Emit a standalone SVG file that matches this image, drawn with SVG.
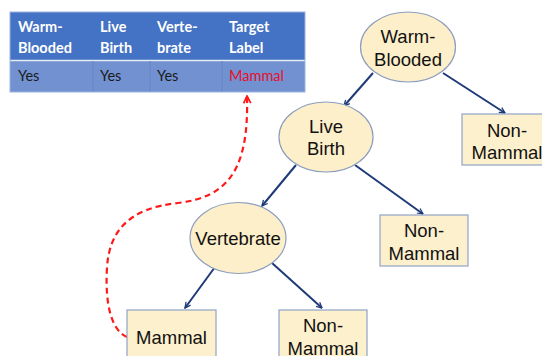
<svg xmlns="http://www.w3.org/2000/svg" width="542" height="356" viewBox="0 0 542 356">
<defs>
<style>
.th{font-family:Lato,"Open Sans",sans-serif;font-weight:bold;font-size:14.5px;fill:#ffffff}
.td{font-family:Lato,"Open Sans",sans-serif;font-size:14.5px;fill:#1a1a1a}
.tn{font-family:"Liberation Sans",Arial,sans-serif;font-size:18.5px;fill:#111111;text-anchor:middle}
.ell{fill:#FDEFC9;stroke:#8C9DBE;stroke-width:1.2}
.box{fill:#FDF0CD;stroke:#8FA3C6;stroke-width:1.2}
.edge{stroke:#1E3A78;stroke-width:2;fill:none;marker-end:url(#ah)}
</style>
<marker id="ah" viewBox="0 0 10 10" refX="9" refY="5" markerWidth="7" markerHeight="7" orient="auto" markerUnits="userSpaceOnUse">
<path d="M1,1 L9,5 L1,9" fill="none" stroke="#1E3A78" stroke-width="1.8"/>
</marker>
<marker id="rh" viewBox="0 0 10 10" refX="9" refY="5" markerWidth="9" markerHeight="9" orient="auto" markerUnits="userSpaceOnUse">
<path d="M1,1 L9,5 L1,9" fill="none" stroke="#FF1A1A" stroke-width="2"/>
</marker>
</defs>
<rect width="542" height="356" fill="#ffffff"/>
<g id="table">
<rect x="10" y="12" width="295" height="48" fill="#4472C4"/>
<rect x="10" y="61" width="295" height="31" fill="#7291D1"/>
<line x1="10" y1="60.5" x2="305" y2="60.5" stroke="#E6ECF7" stroke-width="1.5"/>
<g stroke="#6584C6" stroke-width="1">
<line x1="93" y1="61" x2="93" y2="92"/>
<line x1="150" y1="61" x2="150" y2="92"/>
<line x1="222" y1="61" x2="222" y2="92"/>
</g>
<rect x="10" y="12" width="295" height="80" fill="none" stroke="#9DB3E0" stroke-width="1"/>
<text class="th" x="18" y="32">Warm-</text>
<text class="th" x="18" y="53">Blooded</text>
<text class="th" x="100" y="32">Live</text>
<text class="th" x="100" y="53">Birth</text>
<text class="th" x="157" y="32">Verte-</text>
<text class="th" x="157" y="53">brate</text>
<text class="th" x="229" y="32">Target</text>
<text class="th" x="229" y="53">Label</text>
<text class="td" x="18" y="81">Yes</text>
<text class="td" x="100" y="81">Yes</text>
<text class="td" x="157" y="81">Yes</text>
<text class="td" x="229" y="81" style="fill:#E8102A">Mammal</text>
</g>
<g id="connectors">
<line class="edge" x1="373" y1="73" x2="344" y2="106"/>
<line class="edge" x1="443" y1="73" x2="505" y2="113"/>
<line class="edge" x1="296" y1="165" x2="262" y2="206"/>
<line class="edge" x1="355" y1="165" x2="423" y2="214"/>
<line class="edge" x1="215" y1="267" x2="185" y2="308"/>
<line class="edge" x1="272" y1="263" x2="322" y2="308"/>
<path d="M127,337 C110,330 105,300 107,268 C109,232 128,208 178,203 C228,197 249,170 247,96" fill="none" stroke="#FF1A1A" stroke-width="2.2" stroke-dasharray="6,4" marker-end="url(#rh)"/>
</g>
<g id="warm-blooded">
<ellipse class="ell" cx="408" cy="47" rx="47.5" ry="35"/>
<text class="tn" x="408" y="43">Warm-</text>
<text class="tn" x="408" y="66">Blooded</text>
</g>
<g id="live-birth">
<ellipse class="ell" cx="326" cy="137" rx="47" ry="35"/>
<text class="tn" x="326" y="133">Live</text>
<text class="tn" x="326" y="155">Birth</text>
</g>
<g id="non-mammal-1">
<rect class="box" x="462" y="114" width="84" height="51"/>
<text class="tn" x="507" y="137">Non-</text>
<text class="tn" x="507" y="159">Mammal</text>
</g>
<g id="vertebrate">
<ellipse class="ell" cx="238" cy="238" rx="48" ry="35.5"/>
<text class="tn" x="238" y="245">Vertebrate</text>
</g>
<g id="non-mammal-2">
<rect class="box" x="380" y="215" width="88" height="51"/>
<text class="tn" x="424" y="237">Non-</text>
<text class="tn" x="424" y="260">Mammal</text>
</g>
<g id="mammal">
<rect class="box" x="127" y="310" width="89" height="52"/>
<text class="tn" x="171.5" y="344">Mammal</text>
</g>
<g id="non-mammal-3">
<rect class="box" x="279" y="310" width="88" height="52"/>
<text class="tn" x="323" y="332">Non-</text>
<text class="tn" x="323" y="355">Mammal</text>
</g>
</svg>
